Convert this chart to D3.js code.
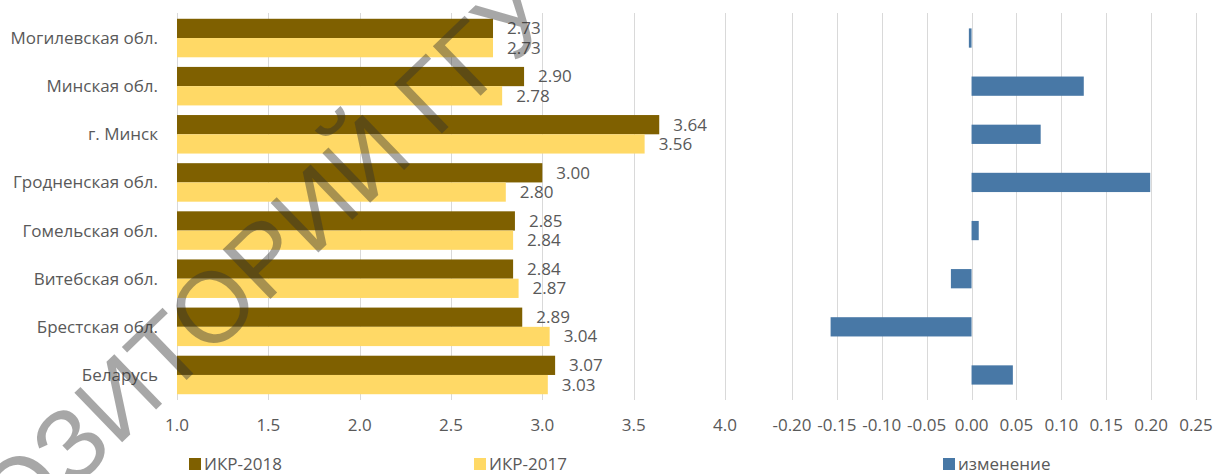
<!DOCTYPE html>
<html>
<head>
<meta charset="utf-8">
<script src="https://cdn.jsdelivr.net/npm/d3@7"></script>
<style>
  body { margin: 0; background: #fff; }
  svg text { font-family: "Open Sans", sans-serif; fill: #595959; }
</style>
</head>
<body>
<svg id="chart" width="1215" height="474"></svg>
<script>
// data, top to bottom as in the picture
var regions = ["Могилевская обл.", "Минская обл.", "г. Минск", "Гродненская обл.",
               "Гомельская обл.", "Витебская обл.", "Брестская обл.", "Беларусь"];
var ikr2018 = [2.73, 2.90, 3.64, 3.00, 2.85, 2.84, 2.89, 3.07];
var ikr2017 = [2.73, 2.78, 3.56, 2.80, 2.84, 2.87, 3.04, 3.03];
var change  = [-0.003, 0.125, 0.077, 0.199, 0.008, -0.023, -0.157, 0.046];
var leftTicks  = [1.0, 1.5, 2.0, 2.5, 3.0, 3.5, 4.0];
var rightTicks = [-0.20, -0.15, -0.10, -0.05, 0.00, 0.05, 0.10, 0.15, 0.20, 0.25];

var c2018 = "#7f6000", c2017 = "#ffd966", cChange = "#4878a6", grid = "#d9d9d9";
var fs = "17px";

var svg = d3.select("#chart");
var plotTop = 13, plotBottom = 400;

var y = d3.scaleBand().domain(regions).range([plotTop, plotBottom])
          .paddingInner(0.2).paddingOuter(0.12);
var x = d3.scaleLinear().domain([1, 4]).range([177, 725]);
var x2 = d3.scaleLinear().domain([-0.2, 0.25]).range([792, 1196]);

// gridlines + tick labels (plain hyphen for negatives, like Excel)
function gridlines(scale, ticks, fmt) {
    svg.append("g").selectAll("line").data(ticks).enter().append("line")
        .attr("x1", function(d){ return Math.round(scale(d)) + 0.5; })
        .attr("x2", function(d){ return Math.round(scale(d)) + 0.5; })
        .attr("y1", plotTop).attr("y2", plotBottom)
        .attr("stroke", grid).attr("stroke-width", 1);
    svg.append("g").selectAll("text").data(ticks).enter().append("text")
        .attr("x", function(d){ return scale(d); })
        .attr("y", 431)
        .attr("text-anchor", "middle")
        .style("font-size", fs)
        .text(function(d){ return d3.format(fmt)(d).replace("\u2212", "-"); });
}
gridlines(x, leftTicks, ".1f");
gridlines(x2, rightTicks, ".2f");

// category labels
svg.append("g").selectAll("text").data(regions).enter().append("text")
    .attr("x", 158)
    .attr("y", function(d){ return y(d) + y.bandwidth() / 2; })
    .attr("dy", "0.35em")
    .attr("text-anchor", "end")
    .style("font-size", fs)
    .text(function(d){ return d; });

var half = y.bandwidth() / 2;
var rows = regions.map(function(r, i){
    return { name: r, a: ikr2018[i], b: ikr2017[i], c: change[i] };
});

var g = svg.append("g");
g.selectAll(".b18").data(rows).enter().append("rect")
    .attr("x", x(1)).attr("y", function(d){ return y(d.name); })
    .attr("width", function(d){ return x(d.a) - x(1); })
    .attr("height", half).attr("fill", c2018);
g.selectAll(".b17").data(rows).enter().append("rect")
    .attr("x", x(1)).attr("y", function(d){ return y(d.name) + half; })
    .attr("width", function(d){ return x(d.b) - x(1); })
    .attr("height", half).attr("fill", c2017);

g.selectAll(".l18").data(rows).enter().append("text")
    .attr("x", function(d){ return x(d.a) + 14; })
    .attr("y", function(d){ return y(d.name) + half / 2; })
    .attr("dy", "0.35em").style("font-size", fs)
    .text(function(d){ return d.a.toFixed(2); });
g.selectAll(".l17").data(rows).enter().append("text")
    .attr("x", function(d){ return x(d.b) + 14; })
    .attr("y", function(d){ return y(d.name) + half * 1.5; })
    .attr("dy", "0.35em").style("font-size", fs)
    .text(function(d){ return d.b.toFixed(2); });

// change bars
g.selectAll(".bc").data(rows).enter().append("rect")
    .attr("x", function(d){ return x2(Math.min(0, d.c)); })
    .attr("y", function(d){ return y(d.name) + half / 2; })
    .attr("width", function(d){ return Math.abs(x2(d.c) - x2(0)); })
    .attr("height", half).attr("fill", cChange);

// legend
var legend = [
    { label: "ИКР-2018", color: c2018, x: 189 },
    { label: "ИКР-2017", color: c2017, x: 474 },
    { label: "изменение", color: cChange, x: 943 }
];
var lg = svg.append("g").selectAll("g").data(legend).enter().append("g")
    .attr("transform", function(d){ return "translate(" + d.x + ",458)"; });
lg.append("rect").attr("width", 12).attr("height", 12)
    .attr("fill", function(d){ return d.color; });
lg.append("text").attr("x", 15).attr("y", 12)
    .style("font-size", fs)
    .text(function(d){ return d.label; });

// watermark
svg.append("text")
    .attr("transform", "translate(190,328) rotate(-44)")
    .attr("text-anchor", "middle")
    .attr("dy", "0.35em")
    .style("font-family", "'Liberation Sans', sans-serif")
    .style("font-size", "100px")
    .style("fill", "#303030")
    .style("opacity", 0.42)
    .style("pointer-events", "none")
    .text("РЕПОЗИТОРИЙ ГГУ");
</script>
</body>
</html>
